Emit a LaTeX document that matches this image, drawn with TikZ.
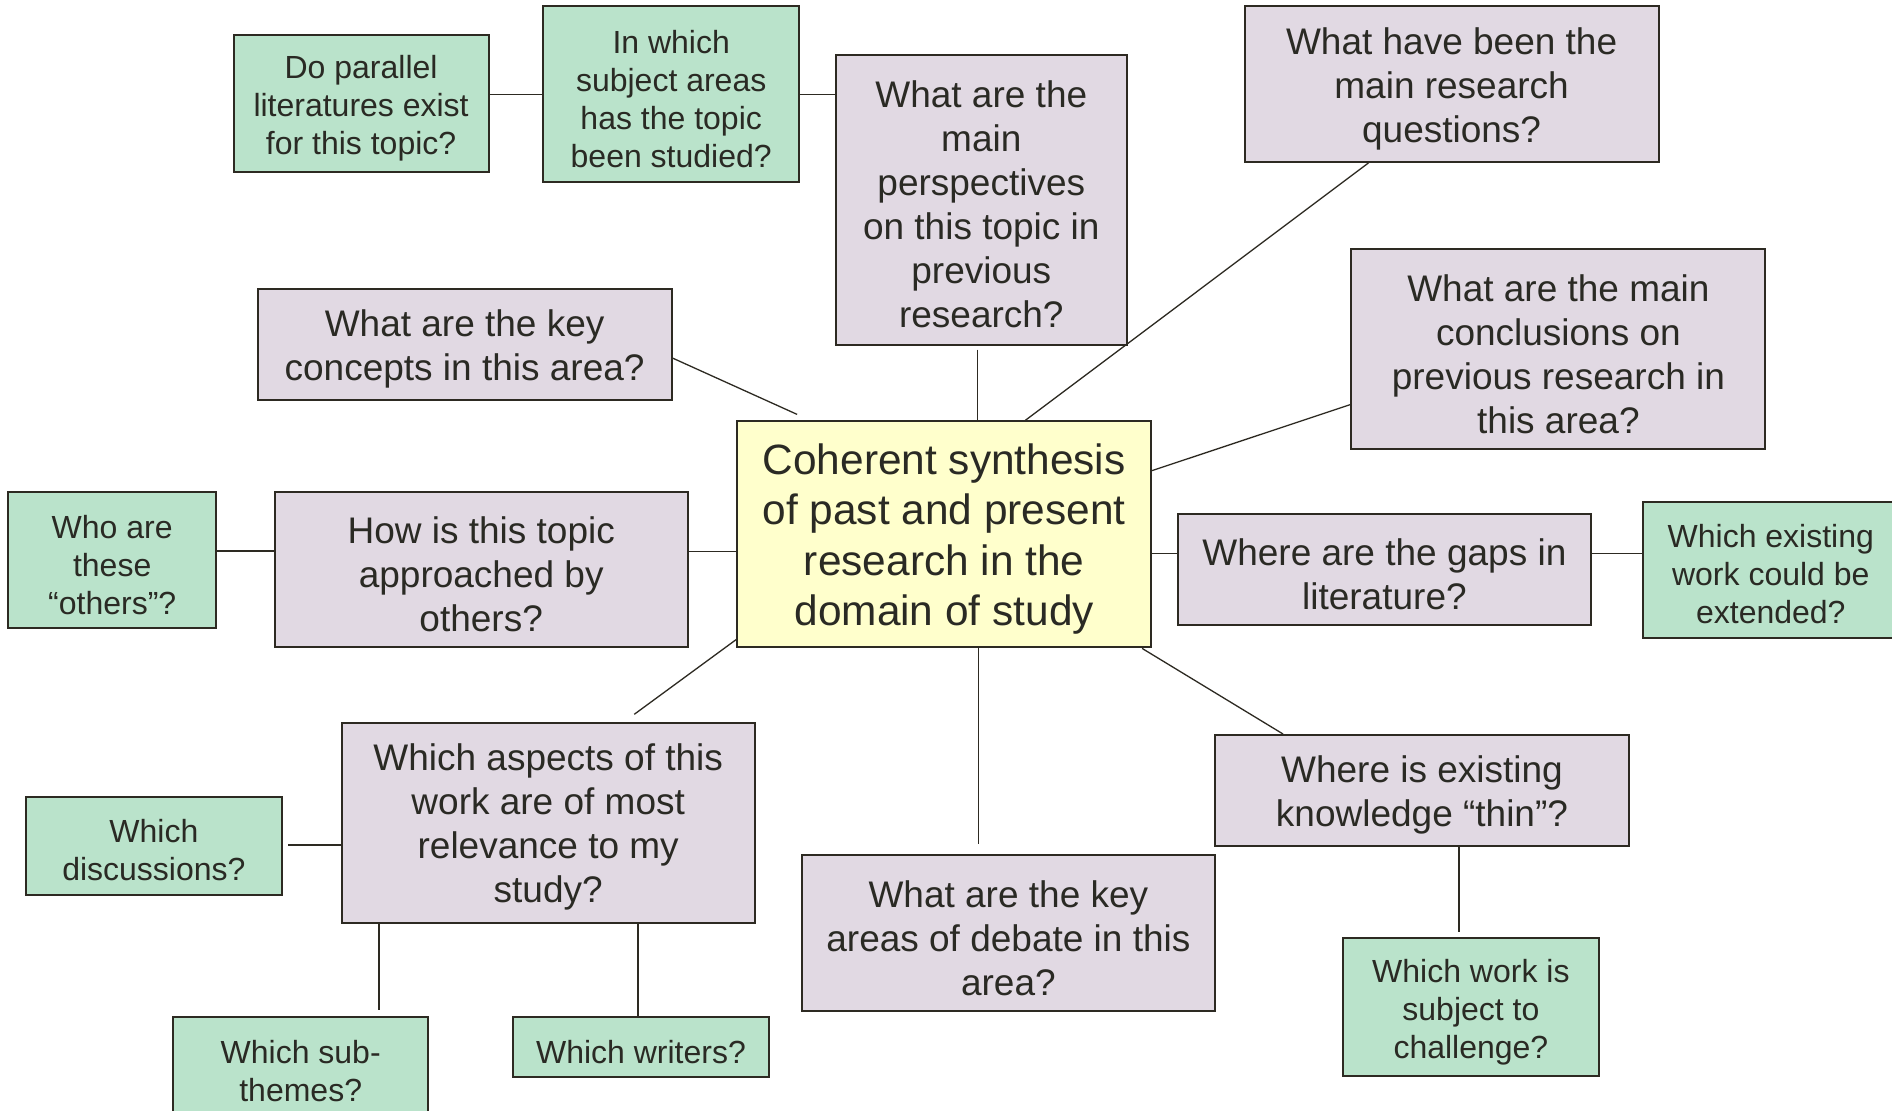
\documentclass[tikz,border=0pt]{standalone}
\usepackage{fontspec}
\setmainfont{Liberation Sans}
\definecolor{bordc}{HTML}{2D2A22}
\definecolor{textc}{HTML}{2A2A24}
\definecolor{greenf}{HTML}{BAE3CB}
\definecolor{purplef}{HTML}{E1D9E3}
\definecolor{yellowf}{HTML}{FFFFCC}
\tikzset{
  qbox/.style={draw=bordc, line width=1pt, inner sep=0pt},
  qtext/.style={inner sep=0pt, align=center, text=textc, yshift=-2.3pt},
  gbox/.style={qbox, fill=greenf},
  pbox/.style={qbox, fill=purplef},
  ybox/.style={qbox, fill=yellowf},
  gtext/.style={qtext, font=\fontsize{16pt}{19pt}\selectfont},
  ptext/.style={qtext, font=\fontsize{18.5pt}{22pt}\selectfont},
  ytext/.style={qtext, font=\fontsize{21.2pt}{25.3pt}\selectfont},
  conn/.style={draw=bordc, line width=0.65pt}
}
% #1 kind (g/p/y), #2 name, #3 position, #4 width, #5 height, #6 text
\newcommand\qnode[6]{%
  \node[#1box, minimum width=#4, minimum height=#5,
        label={[#1text]center:{#6}}] (#2) at (#3) {};}
\begin{document}
\begin{tikzpicture}[x=0.5pt, y=-0.5pt]
\clip (0,0) rectangle (1892,1111);
\fill[white] (0,0) rectangle (1892,1111);

\qnode{g}{par}{361.1,103.4}{127.6pt}{68.4pt}{Do parallel\\literatures exist\\for this topic?}
\qnode{g}{subj}{671.2,94.2}{128.2pt}{87.8pt}{In which\\subject areas\\has the topic\\been studied?}
\qnode{p}{persp}{981.3,199.6}{145.7pt}{145pt}{What are the\\main\\perspectives\\on this topic in\\previous\\research?}
\qnode{p}{rq}{1451.6,83.9}{207pt}{77.9pt}{What have been the\\main research\\questions?}
\qnode{p}{concl}{1558.4,349.2}{207pt}{100.2pt}{What are the main\\conclusions on\\previous research in\\this area?}
\qnode{p}{keyc}{464.6,344.3}{207pt}{55.7pt}{What are the key\\concepts in this area?}
\qnode{y}{center}{944.2,534.4}{206.9pt}{113pt}{Coherent synthesis\\of past and present\\research in the\\domain of study}
\qnode{g}{who}{112.2,560}{103.8pt}{68pt}{Who are\\these\\“others”?}
\qnode{p}{how}{481.2,569.7}{206.7pt}{77.7pt}{How is this topic\\approached by\\others?}
\qnode{p}{gaps}{1384.4,569.8}{206.7pt}{55.5pt}{Where are the gaps in\\literature?}
\qnode{g}{ext}{1770.8,569.9}{128pt}{68.1pt}{Which existing\\work could be\\extended?}
\qnode{p}{aspects}{548.2,822.8}{206.7pt}{100pt}{Which aspects of this\\work are of most\\relevance to my\\study?}
\qnode{g}{disc}{153.9,845.8}{127.9pt}{49.1pt}{Which\\discussions?}
\qnode{p}{debate}{1008.4,933.2}{206.6pt}{77.9pt}{What are the key\\areas of debate in this\\area?}
\qnode{p}{thin}{1422,790.7}{207pt}{55.7pt}{Where is existing\\knowledge “thin”?}
\qnode{g}{chal}{1470.9,1007.3}{127.9pt}{68.8pt}{Which work is\\subject to\\challenge?}
\qnode{g}{subth}{300.7,1066.1}{127.7pt}{49.1pt}{Which sub-\\themes?}
\qnode{g}{writers}{641,1047}{127.6pt}{30pt}{Which writers?}

% connectors
\draw[conn] (subj.west -| par.east) -- (subj.west);
\draw[conn] (subj.east) -- (subj.east -| persp.west);
\draw[conn, shorten <=2pt] ([xshift=-2pt]persp.south) -- ([xshift=-2pt]persp.south |- center.north);
\draw[conn] ([xshift=62.5pt]rq.south west) -- ([xshift=144.5pt]center.north west);
\draw[conn] ([yshift=-27.7pt]concl.west) -- ([yshift=31.9pt]center.east);
\draw[conn] ([yshift=-6.9pt]keyc.east) -- ([xshift=30.4pt,yshift=3pt]center.north west);
\draw[conn] ([yshift=9.35pt]how.west -| who.east) -- ([yshift=9.35pt]how.west);
\draw[conn] ([yshift=-8.7pt]center.west) -- ([yshift=-8.7pt]center.west -| how.east);
\draw[conn] ([yshift=8pt]gaps.west -| center.east) -- ([yshift=8pt]gaps.west);
\draw[conn] ([yshift=8pt]gaps.east) -- ([yshift=8pt]gaps.east -| ext.west);
\draw[conn] ([yshift=4.45pt]center.south west) -- ([xshift=146.9pt,yshift=3.75pt]aspects.north west);
\draw[conn, shorten >=5pt] ([xshift=17.2pt]center.south) -- ([xshift=17.2pt]center.south |- debate.north);
\draw[conn] ([xshift=-5pt]center.south east) -- ([xshift=34.5pt]thin.north west);
\draw[conn, shorten <=2.6pt] ([yshift=-11.1pt]aspects.west -| disc.east) -- ([yshift=-11.1pt]aspects.west);
\draw[conn, shorten >=3.2pt] ([xshift=19.25pt]aspects.south west) -- ([xshift=19.25pt]aspects.south west |- subth.north);
\draw[conn] ([xshift=148.75pt]aspects.south west) -- ([xshift=148.75pt]aspects.south west |- writers.north);
\draw[conn, shorten >=2.7pt] ([xshift=18.5pt]thin.south) -- ([xshift=18.5pt]thin.south |- chal.north);
\end{tikzpicture}
\end{document}
